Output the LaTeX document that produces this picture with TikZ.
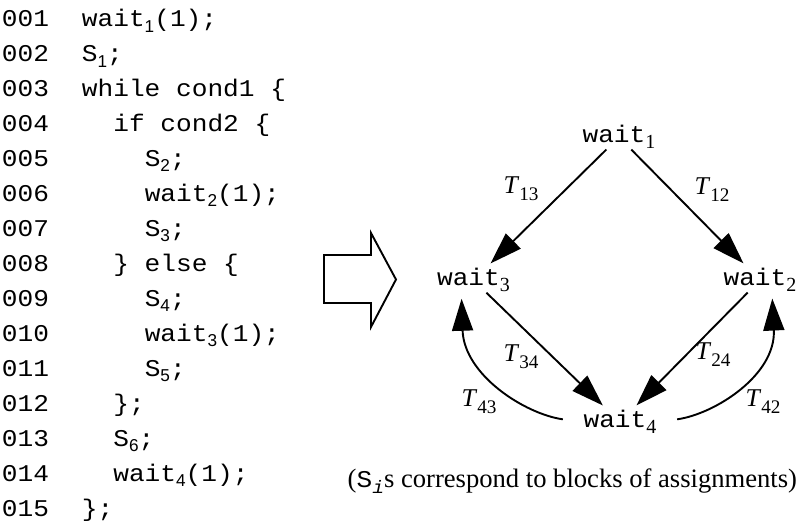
\documentclass[tikz,border=0pt]{standalone}
\usepackage{fontspec}
\setmainfont{Liberation Serif}
\newfontfamily\codefont[FakeStretch=1.09]{Liberation Mono}
\newfontfamily\subfont{Liberation Sans}
\usetikzlibrary{arrows.meta}

\newcommand{\csub}[1]{\raisebox{-2.6pt}{\fontsize{8.6}{9}\subfont #1}}
\newcommand{\wsub}[1]{\raisebox{-2.8pt}{\fontsize{10}{11}\rmfamily #1}}
\newcommand{\tlab}[1]{\textit{T}\raisebox{-3.5pt}{\fontsize{9.6}{10}\selectfont #1}}

\begin{document}
\begin{tikzpicture}[
    x=0.5pt, y=-0.5pt,
    line width=0.95pt,
    code/.style={anchor=base west, inner sep=0pt, font=\fontsize{12}{14}\codefont},
    state/.style={anchor=base, inner sep=0pt, font=\fontsize{12}{14}\codefont},
    trans/.style={inner sep=0pt, font=\fontsize{12.8}{14}\selectfont},
    arr/.style={-{Triangle[length=16pt,width=10.5pt]}, shorten >=3pt},
    note/.style={anchor=base east, inner sep=0pt, font=\fontsize{13.3}{15}\selectfont}
]
\useasboundingbox (0,0) rectangle (800,524);

% Listing: number / indent level / code
\foreach \n/\lvl/\txt [count=\k] in {
    001/0/{wait\csub{1}(1);},
    002/0/{S\csub{1};},
    003/0/{while cond1 \{},
    004/1/{if cond2 \{},
    005/2/{S\csub{2};},
    006/2/{wait\csub{2}(1);},
    007/2/{S\csub{3};},
    008/1/{\} else \{},
    009/2/{S\csub{4};},
    010/2/{wait\csub{3}(1);},
    011/2/{S\csub{5};},
    012/1/{\};},
    013/1/{S\csub{6};},
    014/1/{wait\csub{4}(1);},
    015/0/{\};}
}{
    \node[code] (num\k) at (1, {27+34.93*(\k-1)}) {\n};
    \node[code] (line\k) at ({81+31.4*\lvl}, {27+34.93*(\k-1)}) {\txt};
}

% Hollow arrow between listing and graph
\draw (324,255) -- (371,255) -- (371,233) -- (396,279.5) -- (371,327)
    -- (371,303) -- (324,303) -- cycle;

% States
\node[state] (w1) at (619,143) {wait\wsub{1}};
\node[state] (w3) at (473.5,286) {wait\wsub{3}};
\node[state] (w2) at (760,286) {wait\wsub{2}};
\node[state] (w4) at (620,428) {wait\wsub{4}};

% Transitions
\draw[arr] (w1) -- (w3);
\draw[arr] (w1) -- (w2);
\draw[arr] (w3) -- (w4);
\draw[arr] (w2) -- (w4);
\draw[arr, shorten <=10pt] (w4.west) .. controls (525,414) and (464,375) .. (w3.-134);
\draw[arr, shorten <=10pt] (w4.east) .. controls (715,414) and (776,375) .. (w2.-46);

\node[trans] (t13) at (521,189) {\tlab{13}};
\node[trans] (t12) at (712,190) {\tlab{12}};
\node[trans] (t34) at (521,357) {\tlab{34}};
\node[trans] (t24) at (713,355) {\tlab{24}};
\node[trans] (t43) at (479,402) {\tlab{43}};
\node[trans] (t42) at (763,402) {\tlab{42}};

\node[note] (note) at (798,488)
    {({\fontsize{12}{14}\codefont S\raisebox{-2.5pt}{\fontsize{9}{10}\itshape i}}s correspond to blocks of assignments)};

\end{tikzpicture}
\end{document}
